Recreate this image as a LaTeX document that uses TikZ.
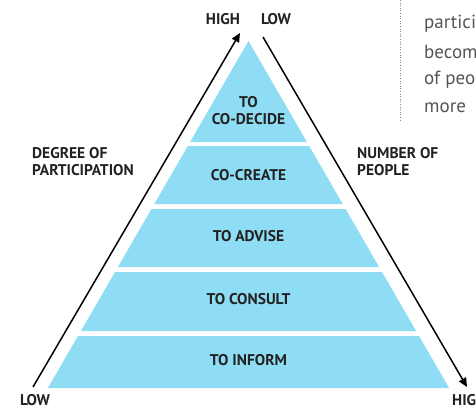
\documentclass[tikz,border=0pt]{standalone}
\usepackage{fontspec}
\setmainfont{PT Sans}
\usetikzlibrary{arrows.meta}
\definecolor{pyr}{HTML}{8FDDF4}
\definecolor{ink}{HTML}{222222}
\definecolor{side}{HTML}{555555}
\tikzset{
  layer/.style={fill=pyr, draw=none},
  lbl/.style={font=\bfseries\fontsize{15.5}{17}\selectfont, text=ink, inner sep=0pt, align=center},
  axis/.style={font=\bfseries\fontsize{15.5}{17}\selectfont, text=ink, inner sep=0pt, align=left},
  axisline/.style={line width=1.5pt, -{Triangle[length=9pt,width=8pt]}},
  sidetext/.style={font=\fontsize{19}{19}\selectfont, text=side, inner sep=0pt, anchor=west}
}
\begin{document}
\begin{tikzpicture}[x=1pt,y=-1pt]
\useasboundingbox (0,0) rectangle (476,407);
\begin{scope}
\clip (0,0) rectangle (476,407);
% layers
\fill[layer] (248.5,41) -- (306.9,142) -- (190.1,142) -- cycle;
\fill[layer] (187.8,146) -- (309.2,146) -- (342.7,204) -- (154.3,204) -- cycle;
\fill[layer] (151.4,209) -- (345.6,209) -- (379.1,267) -- (117.9,267) -- cycle;
\fill[layer] (115.0,272) -- (382.0,272) -- (416.1,331) -- (80.9,331) -- cycle;
\fill[layer] (78.0,336) -- (419.0,336) -- (449.1,388) -- (47.9,388) -- cycle;
% layer labels
\node[lbl] (l1) at (248.5,111) {TO\\CO-DECIDE};
\node[lbl] (l2) at (248.5,175) {CO-CREATE};
\node[lbl] (l3) at (248.5,236) {TO ADVISE};
\node[lbl] (l4) at (248.5,299) {TO CONSULT};
\node[lbl] (l5) at (248.5,360) {TO INFORM};
% axes
\coordinate (a1) at (33,387);
\coordinate (a2) at (240,33);
\coordinate (b1) at (263,37);
\coordinate (b2) at (467,387);
\draw[axisline] (a1) -- (a2);
\draw[axisline] (b1) -- (b2);
\node[axis] (high1) at (223,19) {HIGH};
\node[axis] (low1) at (276,19) {LOW};
\node[axis] (low2) at (35,400) {LOW};
\node[axis, anchor=west] (high2) at (452,400) {HIGH};
\node[axis, anchor=west] (deg) at (32,162) {DEGREE OF\\PARTICIPATION};
\node[axis, anchor=west] (num) at (357,162) {NUMBER OF\\PEOPLE};
% side text
\coordinate (d1) at (400,0);
\coordinate (d2) at (400,122);
\draw[side!70, line width=0.6pt, dotted] (d1) -- (d2);
\node[sidetext] (s1) at (424,24) {participation};
\node[sidetext] (s2) at (424,52) {becomes};
\node[sidetext] (s3) at (424,80) {of people};
\node[sidetext] (s4) at (424,108) {more};
\end{scope}
\end{tikzpicture}
\end{document}
